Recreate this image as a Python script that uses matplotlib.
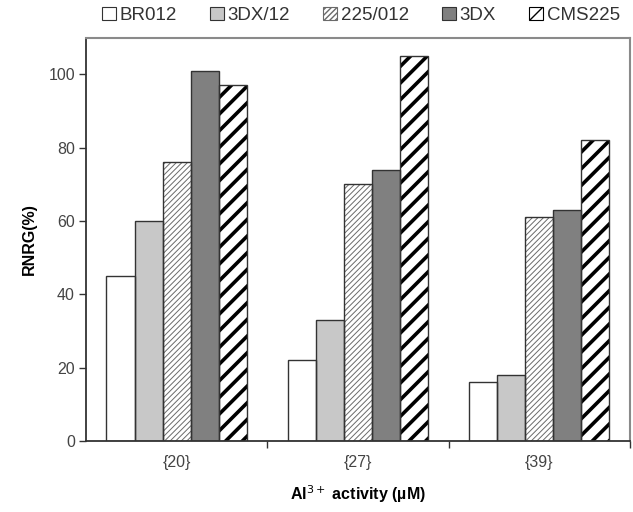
import matplotlib
matplotlib.use("Agg")
import matplotlib.pyplot as plt
import numpy as np
from matplotlib.patches import Patch

categories = ["{20}", "{27}", "{39}"]
series_names = ["BR012", "3DX/12", "225/012", "3DX", "CMS225"]
br012 = [45, 22, 16]
dx12 = [60, 33, 18]
s225_012 = [76, 70, 61]
dx = [101, 74, 63]
cms225 = [97, 105, 82]
yticks = [0, 20, 40, 60, 80, 100]

series = [br012, dx12, s225_012, dx, cms225]
styles = [
    dict(fc="white", hatch=None, hc=None, hlw=1.0),
    dict(fc="#c8c8c8", hatch=None, hc=None, hlw=1.0),
    dict(fc="white", hatch="//////", hc="#6a6a6a", hlw=0.7),
    dict(fc="#808080", hatch=None, hc=None, hlw=1.0),
    dict(fc="white", hatch="//", hc="black", hlw=2.6),
]

plt.rcParams["font.family"] = ["Liberation Sans", "DejaVu Sans"]
fig = plt.figure(figsize=(6.33, 5.12), dpi=100)
ax = fig.add_axes([0.136, 0.1387, 0.859, 0.788])

x = np.arange(len(categories))
width = 0.155
handles = []
for i, (vals, st) in enumerate(zip(series, styles)):
    pos = x + (i - 2) * width
    with plt.rc_context({"hatch.linewidth": st["hlw"]}):
        if st["hatch"]:
            ax.bar(pos, vals, width, color=st["fc"], edgecolor=st["hc"],
                   hatch=st["hatch"], linewidth=0, zorder=2)
        else:
            ax.bar(pos, vals, width, color=st["fc"], linewidth=0, zorder=2)
        ax.bar(pos, vals, width, fill=False, edgecolor="#333333",
               linewidth=1.0, zorder=3)
        if st["hatch"]:
            h = Patch(facecolor=st["fc"], edgecolor=st["hc"], hatch=st["hatch"],
                      linewidth=0.8, label=series_names[i])
        else:
            h = Patch(facecolor=st["fc"], edgecolor="#333333", linewidth=0.8,
                      label=series_names[i])
    handles.append(h)

ax.set_xlim(-0.5, 2.5)
ax.set_ylim(0, 110)
ax.set_yticks(yticks)
ax.set_yticklabels([str(t) for t in yticks], fontsize=11.5, color="#444444")
ax.set_xticks(x)
ax.set_xticklabels(categories, fontsize=11.5, color="#444444")
ax.set_xticks([0.5, 1.5, 2.5], minor=True)
ax.tick_params(axis="x", which="major", length=0, pad=10)
ax.tick_params(axis="x", which="minor", length=5, width=1.0, color="#333333")
ax.tick_params(axis="y", length=5, width=1.0, color="#333333", pad=3)

for s in ["left", "bottom"]:
    ax.spines[s].set_color("#333333")
    ax.spines[s].set_linewidth(1.3)
for s in ["top", "right"]:
    ax.spines[s].set_color("#8a8a8a")
    ax.spines[s].set_linewidth(1.5)

ax.set_ylabel("RNRG(%)", fontsize=11.5, fontweight="bold", labelpad=8)
ax.set_xlabel("Al$^{3+}$ activity (µM)", fontsize=11.5, fontweight="bold", labelpad=10)

fig.legend(handles=handles, loc="center", bbox_to_anchor=(0.57, 0.970), ncol=5,
           frameon=False, fontsize=13.5, handlelength=0.75, handleheight=0.75,
           handletextpad=0.2, columnspacing=1.75, labelcolor="#333333",
           borderaxespad=0)

fig.savefig("out.png", dpi=100)
